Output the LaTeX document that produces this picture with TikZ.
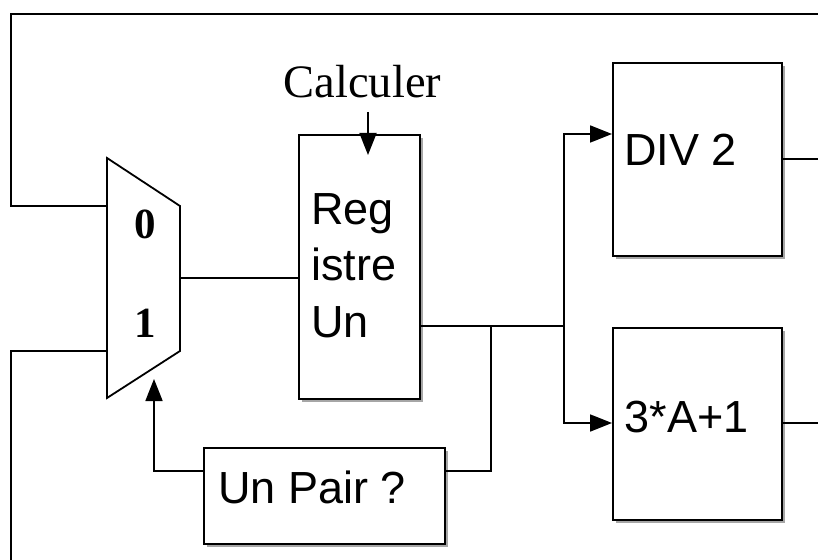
\documentclass[tikz,border=0pt]{standalone}
\usepackage{fontspec}
\setmainfont{Liberation Serif}
\newfontfamily\boxfont{Liberation Sans}
\usetikzlibrary{arrows.meta,shadows}
\begin{document}
\begin{tikzpicture}[x=1bp,y=-1bp,
  wire/.style={line width=1.8bp},
  arr/.style={wire,-{Triangle[length=22bp,width=17bp]}},
  blk/.style={draw,line width=1.8bp,fill=white,rectangle,inner sep=0pt,anchor=north west,
    drop shadow={shadow xshift=3bp,shadow yshift=-3bp,opacity=0.35,fill=black}},
  boxtxt/.style={inner sep=0pt,anchor=base west,font=\boxfont\fontsize{45bp}{56bp}\selectfont,align=left},
  sertxt/.style={inner sep=0pt,font=\fontsize{46.5bp}{50bp}\selectfont},
  digit/.style={inner sep=0pt,anchor=base,font=\bfseries\fontsize{43bp}{46bp}\selectfont}]
\useasboundingbox (0,0) rectangle (818,560);
\fill[white] (0,0) rectangle (818,560);

% blocks
\node[blk,minimum width=121bp,minimum height=264bp] (reg) at (298,134) {};
\node[blk,minimum width=169bp,minimum height=193bp] (div) at (612,62) {};
\node[blk,minimum width=169bp,minimum height=192bp] (tri) at (612,327) {};
\node[blk,minimum width=241bp,minimum height=96bp] (pair) at (203,447) {};

% multiplexer
\draw[wire,line join=miter] (107,158) -- (180,206) -- (180,351) -- (107,398) -- cycle;
\coordinate (mux0) at (107,206);
\coordinate (mux1) at (107,351);
\coordinate (muxout) at (180,278);
\coordinate (muxsel) at (154,379);

% texts
\node[sertxt,anchor=base west] (calc) at (283.5,98) {Calculer};
\node[digit] (d0) at (145,239) {0};
\node[digit] (d1) at (145,337) {1};
\node[boxtxt] (regtxt) at (311,337) {Reg\\istre\\Un};
\node[boxtxt] (divtxt) at (624,166) {DIV 2};
\node[boxtxt] (tritxt) at (624.5,432) {3*A+1};
\node[boxtxt] (pairtxt) at (218,503) {Un Pair ?};

% coordinates for free ends
\coordinate (topL) at (11,14);
\coordinate (topR) at (818,14);
\coordinate (botL) at (11,560);
\coordinate (clk) at (368,112);
\coordinate (clkend) at (368,155);
\coordinate (regout) at (419,326);
\coordinate (jA) at (491,326);
\coordinate (jB) at (564,326);
\coordinate (divin) at (612,134);
\coordinate (triin) at (612,423);
\coordinate (divout) at (781,159);
\coordinate (triout) at (781,423);
\coordinate (divR) at (818,159);
\coordinate (triR) at (818,423);
\coordinate (pairE) at (444,471);
\coordinate (pairW) at (203,471);

% connectors
\draw[wire] (topR) -- (topL) |- (mux0);
\draw[wire] (botL) |- (mux1);
\draw[wire] (muxout) -- (reg.west |- muxout);
\draw[arr] (clk) -- (clkend);
\draw[wire] (regout) -- (jB);
\draw[arr] (jB) |- (divin);
\draw[arr] (jB) |- (triin);
\draw[wire] (jA) |- (pairE);
\draw[arr] (pairW) -| (muxsel);
\draw[wire] (divout) -- (divR);
\draw[wire] (triout) -- (triR);
\end{tikzpicture}
\end{document}
